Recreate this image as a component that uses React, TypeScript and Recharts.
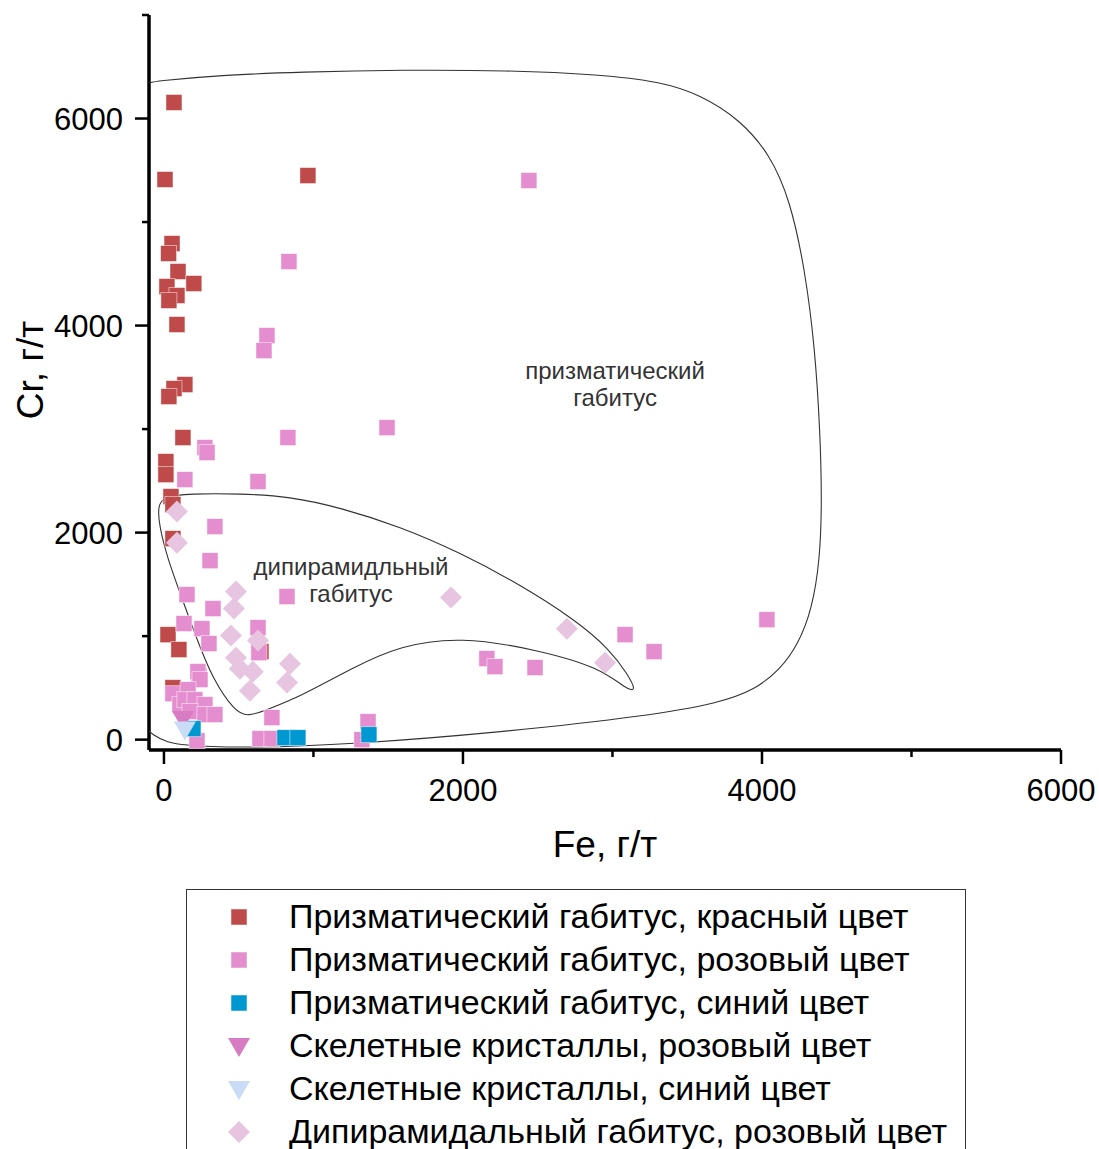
import { ScatterChart, Scatter, XAxis, YAxis, ReferenceDot } from 'recharts'

// [Fe, Cr] pairs
const prismRed: [number, number][] = [
  [67, 6155], [7, 5411], [963, 5449], [54, 4792], [31, 4696], [94, 4522], [20, 4377],
  [200, 4406], [87, 4290], [33, 4242], [87, 4010], [140, 3430], [67, 3391], [33, 3314],
  [127, 2918], [13, 2686], [13, 2560], [47, 2348], [60, 2271], [60, 1942], [27, 1014],
  [100, 870], [60, 502], [649, 850],
]
const prismPink: [number, number][] = [
  [2441, 5401], [836, 4618], [689, 3903], [669, 3758], [1492, 3014], [829, 2918],
  [274, 2821], [288, 2773], [140, 2512], [629, 2493], [341, 2058], [308, 1729],
  [154, 1401], [823, 1382], [328, 1266], [134, 1121], [254, 1072], [301, 928],
  [629, 1082], [635, 840], [234, 618], [227, 657], [241, 580], [60, 444], [161, 483],
  [107, 338], [140, 386], [207, 386], [274, 338], [174, 271], [274, 242], [341, 242],
  [221, -10], [722, 213], [642, 10], [722, 10], [1365, 174], [1324, 0],
  [2160, 783], [2214, 705], [2482, 696], [3084, 1014], [3278, 850], [4033, 1159],
]
const prismBlue: [number, number][] = [[194, 106], [809, 19], [896, 19], [1371, 48]]
const skelPink: [number, number][] = [[127, 200]]
const skelBlue: [number, number][] = [[140, 97]]
const dipyrPink: [number, number][] = [
  [87, 2203], [87, 1903], [1920, 1372], [2695, 1072], [2950, 744], [482, 1430],
  [468, 1266], [448, 1005], [629, 957], [482, 792], [508, 686], [595, 657],
  [575, 473], [843, 734], [823, 551],
]

// outlines of the two habit fields
const prismField: [number, number][] = [
  [-400, 6300], [0, 6370], [400, 6420], [910, 6450], [1600, 6470], [2300, 6465],
  [2916, 6425], [3318, 6357], [3585, 6232], [3853, 5990], [4054, 5652], [4187, 5217],
  [4288, 4541], [4355, 3768], [4388, 2995], [4401, 2319], [4388, 1739], [4334, 1256],
  [4241, 918], [4120, 676], [3953, 483], [3719, 357], [3251, 232], [2250, 70],
  [1250, -45], [580, -80], [110, -60], [-70, 10], [-250, 300], [-400, 3000],
]
const dipyrField: [number, number][] = [
  [-7, 2348], [174, 2377], [508, 2377], [843, 2348], [1177, 2242], [1579, 2058],
  [1980, 1807], [2381, 1498], [2749, 1159], [2983, 870], [3104, 628], [3160, 470],
  [3097, 483], [2916, 696], [2495, 870], [1980, 995], [1579, 908], [1264, 696],
  [910, 415], [689, 290], [562, 222], [475, 271], [328, 580], [221, 966],
  [107, 1420], [20, 1768], [-33, 2077], [-40, 2251],
]

const xTicks = [0, 1000, 2000, 3000, 4000, 5000, 6000]
const yTicks = [0, 1000, 2000, 3000, 4000, 5000, 6000, 7000]

const toXY = (rows: [number, number][]) => rows.map(([x, y]) => ({ x, y }))

type Kind = 'square' | 'tri' | 'diamond'
const series: { name: string; color: string; kind: Kind; rows: [number, number][] }[] = [
  { name: 'Призматический габитус, красный цвет', color: '#BF4A4A', kind: 'square', rows: prismRed },
  { name: 'Призматический габитус, розовый цвет', color: '#E58ECF', kind: 'square', rows: prismPink },
  { name: 'Призматический габитус, синий цвет', color: '#0098D0', kind: 'square', rows: prismBlue },
  { name: 'Скелетные кристаллы, розовый цвет', color: '#D77BC2', kind: 'tri', rows: skelPink },
  { name: 'Скелетные кристаллы, синий цвет', color: '#CADCF5', kind: 'tri', rows: skelBlue },
  { name: 'Дипирамидальный габитус, розовый цвет', color: '#E7C4E0', kind: 'diamond', rows: dipyrPink },
]

function Marker({ cx, cy, kind, color }: { cx: number; cy: number; kind: Kind; color: string }) {
  if (kind === 'square')
    return <rect x={cx - 8} y={cy - 8} width={16} height={16} fill={color} stroke="#fff" strokeOpacity={0.6} strokeWidth={0.8} />
  if (kind === 'tri')
    return <polygon points={`${cx - 11},${cy - 8} ${cx + 11},${cy - 8} ${cx},${cy + 11}`} fill={color} />
  return <polygon points={`${cx},${cy - 11} ${cx + 11},${cy} ${cx},${cy + 11} ${cx - 11},${cy}`} fill={color} />
}

function XTick({ x, y, payload }: any) {
  const major = payload.value % 2000 === 0
  return (
    <g>
      <line x1={x} x2={x} y1={y} y2={y + (major ? 14 : 7)} stroke="#000" strokeWidth={2.5} />
      {major && <text x={x} y={y + 51} textAnchor="middle" fontSize={31} fill="#000">{payload.value}</text>}
    </g>
  )
}

function YTick({ x, y, payload }: any) {
  const major = payload.value % 2000 === 0
  return (
    <g>
      <line x1={x} x2={x - (major ? 14 : 7)} y1={y} y2={y} stroke="#000" strokeWidth={2.5} />
      {major && <text x={x - 26} y={y + 11} textAnchor="end" fontSize={31} fill="#000">{payload.value}</text>}
    </g>
  )
}

const XLabel = () => <text x={605} y={857} textAnchor="middle" fontSize={37} fill="#000">Fe, г/т</text>
const YLabel = () => (
  <text x={0} y={0} transform="translate(43 370) rotate(-90)" textAnchor="middle" fontSize={37} fill="#000">Cr, г/т</text>
)

const fieldNote = { position: 'center' as const, fontSize: 24, fill: '#333' }

export default function App() {
  return (
    <div style={{ position: 'relative', width: 1099, height: 1149, overflow: 'hidden', background: '#fff', fontFamily: '"Liberation Sans", Arial, sans-serif' }}>
      <style>{'body{margin:0}'}</style>
      <ScatterChart width={1099} height={883} margin={{ top: 15, right: 38, bottom: 0, left: 0 }}>
        <XAxis
          type="number" dataKey="x" domain={[-100, 6000]} allowDataOverflow
          ticks={xTicks} interval={0} height={133}
          tickSize={0} tickMargin={0} tickLine={false}
          axisLine={{ stroke: '#000', strokeWidth: 3.5 }}
          tick={<XTick />} label={<XLabel />}
        />
        <YAxis
          type="number" dataKey="y" domain={[-100, 7000]} allowDataOverflow
          ticks={yTicks} interval={0} width={149}
          tickSize={0} tickMargin={0} tickLine={false}
          axisLine={{ stroke: '#000', strokeWidth: 3.5 }}
          tick={<YTick />} label={<YLabel />}
        />
        <Scatter data={toXY(prismField)} line={{ stroke: '#333', strokeWidth: 1.1, fill: 'none' }}
          lineJointType="basisClosed" shape={() => <g />} isAnimationActive={false} />
        <Scatter data={toXY(dipyrField)} line={{ stroke: '#333', strokeWidth: 1.1, fill: 'none' }}
          lineJointType="basisClosed" shape={() => <g />} isAnimationActive={false} />
        {series.map(s => (
          <Scatter key={s.name} name={s.name} data={toXY(s.rows)} isAnimationActive={false}
            shape={(p: any) => <Marker cx={p.cx} cy={p.cy} kind={s.kind} color={s.color} />} />
        ))}
        <ReferenceDot x={3017} y={3565} r={0} fill="none" stroke="none" label={{ value: 'призматический', ...fieldNote }} />
        <ReferenceDot x={3017} y={3304} r={0} fill="none" stroke="none" label={{ value: 'габитус', ...fieldNote }} />
        <ReferenceDot x={1251} y={1671} r={0} fill="none" stroke="none" label={{ value: 'дипирамидльный', ...fieldNote }} />
        <ReferenceDot x={1251} y={1411} r={0} fill="none" stroke="none" label={{ value: 'габитус', ...fieldNote }} />
      </ScatterChart>

      <div style={{ position: 'absolute', left: 186, top: 889, width: 780, height: 300, border: '1.5px solid #333', boxSizing: 'border-box' }}>
        {series.map((s, i) => (
          <div key={s.name} style={{ position: 'absolute', left: 0, top: 26 + 43 * i - 21, height: 43, display: 'flex', alignItems: 'center' }}>
            <svg width={30} height={30} style={{ marginLeft: 37 }}>
              <Marker cx={15} cy={15} kind={s.kind} color={s.color} />
            </svg>
            <span style={{ marginLeft: 35, fontSize: 34, color: '#000', whiteSpace: 'nowrap' }}>{s.name}</span>
          </div>
        ))}
      </div>
    </div>
  )
}
